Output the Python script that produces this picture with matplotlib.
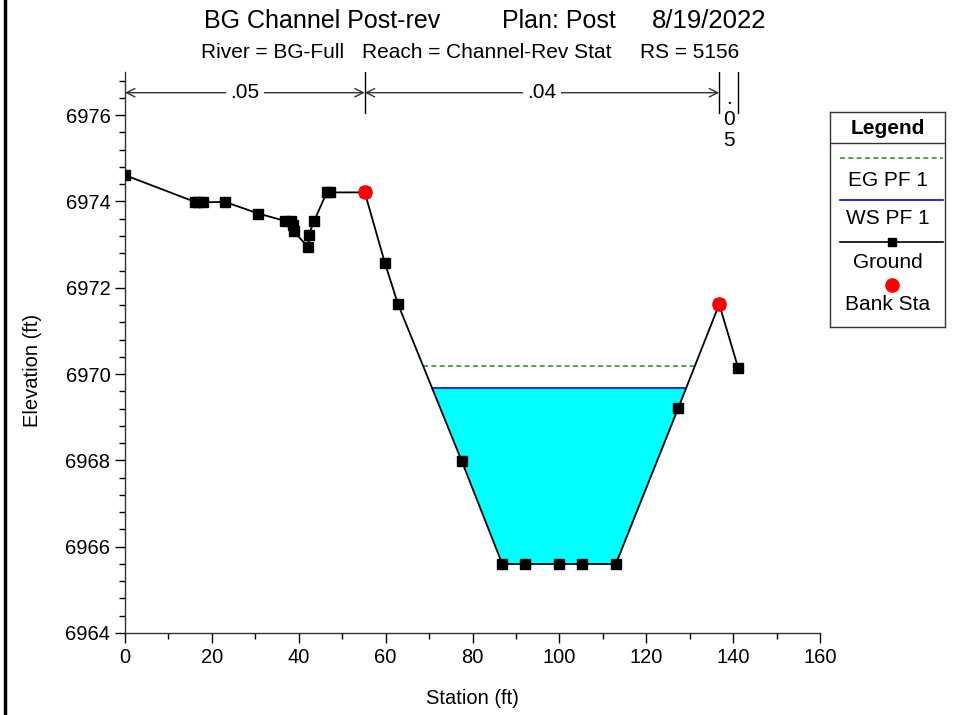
import matplotlib
matplotlib.use("Agg")
import matplotlib.pyplot as plt
from matplotlib.lines import Line2D
from matplotlib.ticker import MultipleLocator, ScalarFormatter
import numpy as np

plt.rcParams['font.family'] = ['Liberation Sans', 'DejaVu Sans']

# ground profile (station, elevation)
station = [0.0, 16.1, 16.9, 18.0, 23.0, 30.7, 36.8, 38.3, 38.6, 38.8,
           42.2, 42.3, 43.5, 46.5, 47.2, 55.2, 59.85, 62.85, 77.5, 86.85,
           92.1, 100.0, 105.2, 113.0, 127.4, 136.8, 141.2]
elev = [6974.61, 6973.99, 6973.99, 6973.98, 6973.99, 6973.72, 6973.55, 6973.55,
        6973.45, 6973.31, 6972.94, 6973.22, 6973.54, 6974.22, 6974.21, 6974.21,
        6972.57, 6971.62, 6967.99, 6965.60, 6965.60, 6965.60, 6965.60, 6965.60,
        6969.22, 6971.62, 6970.13]

bank_sta = [55.2, 136.8]
bank_elev = [6974.21, 6971.62]

ws_elev = 6969.68
eg_elev = 6970.19

n_bounds = [0.0, 55.2, 136.8, 141.2]
n_values = [".05", ".04", ".05"]

x = np.array(station)
y = np.array(elev)


def crossings(level, lo, hi):
    pts = []
    for i in range(len(x) - 1):
        if x[i] < lo or x[i + 1] > hi:
            continue
        if (y[i] - level) * (y[i + 1] - level) < 0:
            t = (level - y[i]) / (y[i + 1] - y[i])
            pts.append(x[i] + t * (x[i + 1] - x[i]))
    return pts[0], pts[-1]


fig = plt.figure(figsize=(9.55, 7.15), dpi=100)
ax = fig.add_axes([125/955, 1-633/715, 695/955, 561/715])

# water fill and lines
wl, wr = crossings(ws_elev, bank_sta[0], bank_sta[1])
el, er = crossings(eg_elev, bank_sta[0], bank_sta[1])
inside = (x > wl) & (x < wr)
xf = np.concatenate([[wl], x[inside], [wr]])
gf = np.interp(xf, x, y)
ax.fill_between(xf, gf, ws_elev, color='#00ffff', lw=0, zorder=1)
ax.plot([el, er], [eg_elev, eg_elev], color='#2f9a2f', ls=(0, (3, 2)), lw=1.2, zorder=2)
ax.plot([wl, wr], [ws_elev, ws_elev], color='#0000ff', lw=1.2, zorder=2)

ax.plot(x, y, color='black', lw=1.3, marker='s', ms=6.5, zorder=3)
ax.plot(bank_sta, bank_elev, 'o', color='#ff0000', ms=9.5, zorder=4)

ax.set_xlim(0, 160)
ax.set_ylim(6964, 6977)
ax.xaxis.set_major_locator(MultipleLocator(20))
ax.xaxis.set_minor_locator(MultipleLocator(10))
ax.yaxis.set_major_locator(MultipleLocator(2))
ax.yaxis.set_minor_locator(MultipleLocator(0.4))
fmt = ScalarFormatter(useOffset=False)
ax.yaxis.set_major_formatter(fmt)
ax.set_yticks(np.arange(6964, 6977, 2))
ax.tick_params(which='major', length=7, width=1, labelsize=14.5, direction='out')
ax.tick_params(which='minor', length=4, width=1, direction='out')
for s in ['top', 'right']:
    ax.spines[s].set_visible(False)
for s in ['left', 'bottom']:
    ax.spines[s].set_linewidth(1)
    ax.spines[s].set_color('#333333')

ax.set_xlabel('Station (ft)', fontsize=14.5)
ax.set_ylabel('Elevation (ft)', fontsize=14.5)
ax.xaxis.set_label_coords(347/695, -56/561)
ax.yaxis.set_label_coords(-83/695, (633-370)/561)

# manning's n bands
arrow_y = 6976.52
for b in n_bounds[1:]:
    ax.plot([b, b], [6977.0, 6976.05], color='black', lw=1, zorder=3)
for i in range(2):
    a, b = n_bounds[i], n_bounds[i + 1]
    ax.annotate('', xy=(a, arrow_y), xytext=(b, arrow_y),
                arrowprops=dict(arrowstyle='<->', color='#333333', lw=1,
                                shrinkA=0, shrinkB=0, mutation_scale=15))
    ax.text((a + b) / 2, arrow_y, n_values[i], ha='center', va='center',
            fontsize=15, bbox=dict(fc='white', ec='none', pad=3), zorder=5)
# last band too narrow: label stacked vertically
mid = (n_bounds[2] + n_bounds[3]) / 2
ax.text(mid, 6976.25, '.', ha='center', va='baseline', fontsize=15)
ax.text(mid, 6975.95, '0', ha='center', va='center_baseline', fontsize=15)
ax.text(mid, 6975.47, '5', ha='center', va='center_baseline', fontsize=15)

# titles
fig.text(204/955, 1-21/715, 'BG Channel Post-rev', fontsize=18, va='center')
fig.text(502/955, 1-21/715, 'Plan: Post', fontsize=18, va='center')
fig.text(652/955, 1-21/715, '8/19/2022', fontsize=18.5, va='center')
fig.text(201/955, 1-53/715, 'River = BG-Full', fontsize=15, va='center')
fig.text(362/955, 1-53/715, 'Reach = Channel-Rev Stat', fontsize=15, va='center')
fig.text(640/955, 1-53/715, 'RS = 5156', fontsize=15, va='center')

# left border
fig.add_artist(Line2D([5/955, 5/955], [0, 1], color='black', lw=2.5))

# legend box
lg = fig.add_axes([830/955, 1-327/715, 115/955, 215/715])
lg.set_xlim(0, 115)
lg.set_ylim(215, 0)
lg.set_xticks([])
lg.set_yticks([])
for s in lg.spines.values():
    s.set_linewidth(1)
    s.set_color('#333333')
lg.text(57.5, 16, 'Legend', ha='center', va='center', fontsize=15, fontweight='bold')
lg.plot([0, 115], [31, 31], color='#333333', lw=1)
lg.plot([10, 113], [46, 46], color='#2f9a2f', ls=(0, (3, 2)), lw=1.2)
lg.text(57.5, 69, 'EG PF 1', ha='center', va='center', fontsize=15)
lg.plot([10, 113], [88, 88], color='#0000ff', lw=1.2)
lg.text(57.5, 107, 'WS PF 1', ha='center', va='center', fontsize=15)
lg.plot([10, 113], [130, 130], color='black', lw=1.2)
lg.plot([62], [130], 's', color='black', ms=6)
lg.text(57.5, 151, 'Ground', ha='center', va='center', fontsize=15)
lg.plot([62], [173], 'o', color='#ff0000', ms=9.5)
lg.text(57.5, 193, 'Bank Sta', ha='center', va='center', fontsize=15)

fig.savefig('out.png', dpi=100)
